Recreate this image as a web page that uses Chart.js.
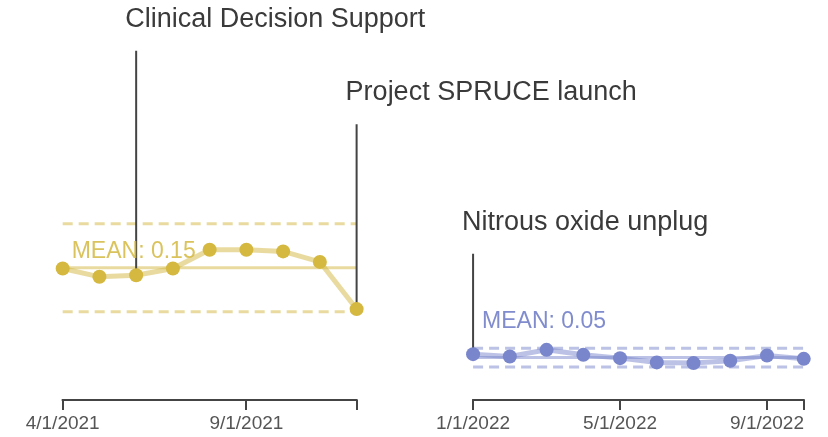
<!DOCTYPE html>
<html>
<head>
<meta charset="utf-8">
<script src="https://cdn.jsdelivr.net/npm/chart.js@4.4.1/dist/chart.umd.min.js"></script>
<style>
  html, body { margin: 0; padding: 0; background: #fff; }
</style>
</head>
<body>
<canvas id="myChart" width="828" height="437"></canvas>
<script>
// first period (before the unplug)
const months2021 = ['2021-04', '2021-05', '2021-06', '2021-07', '2021-08', '2021-09', '2021-10', '2021-11', '2021-12'];
const values2021 = [0.1478, 0.1385, 0.1403, 0.1478, 0.1690, 0.1690, 0.1671, 0.1553, 0.1022];
const limits2021 = { mean: 0.1486, upper: 0.1981, lower: 0.0993 };

// second period
const months2022 = ['2022-01', '2022-02', '2022-03', '2022-04', '2022-05', '2022-06', '2022-07', '2022-08', '2022-09', '2022-10'];
const values2022 = [0.0515, 0.0489, 0.0563, 0.0507, 0.0470, 0.0422, 0.0414, 0.0440, 0.0500, 0.0462];
const limits2022 = { mean: 0.0478, upper: 0.0582, lower: 0.0369 };

const tickMonths = ['2021-04', '2021-09', '2021-12', '2022-01', '2022-05', '2022-09', '2022-10'];
const tickLabels = ['4/1/2021', '9/1/2021', '', '1/1/2022', '5/1/2022', '9/1/2022', ''];

const eventNames = ['Clinical Decision Support', 'Project SPRUCE launch', 'Nitrous oxide unplug'];
const eventMonths = ['2021-06', '2021-12', '2022-01'];
const eventTops = [0.3929, 0.3101, 0.1646];

// where the "MEAN: x" text sits (y value)
const meanLabelY = [0.1597, 0.0806];

const GOLD = 'rgb(212,184,63)';
const GOLD_FAINT = 'rgba(212,184,63,0.5)';
const BLUE = 'rgb(121,134,203)';
const BLUE_FAINT = 'rgba(121,134,203,0.5)';
const FONT = "'Liberation Sans', Arial, sans-serif";

// axis is broken between the two periods, this is the extra blank space in months
const BREAK_GAP = 2.17;

function monthPos(m) {
    const [y, mo] = m.split('-').map(Number);
    let i = (y - 2021) * 12 + mo - 4;
    if (y >= 2022) i += BREAK_GAP;
    return i;
}

function seriesPoints(months, values) {
    return months.map((m, i) => ({ x: monthPos(m), y: values[i] }));
}

function flatLine(months, v) {
    return [{ x: monthPos(months[0]), y: v }, { x: monthPos(months[months.length - 1]), y: v }];
}

function valueAt(m) {
    let i = months2021.indexOf(m);
    if (i >= 0) return values2021[i];
    i = months2022.indexOf(m);
    return values2022[i];
}

function limitSets(months, lim, faint) {
    return [
        { data: flatLine(months, lim.mean), borderColor: faint, borderWidth: 3, pointRadius: 0, order: 3 },
        { data: flatLine(months, lim.upper), borderColor: faint, borderWidth: 3, borderDash: [10, 6], pointRadius: 0, order: 3 },
        { data: flatLine(months, lim.lower), borderColor: faint, borderWidth: 3, borderDash: [10, 6], pointRadius: 0, order: 3 }
    ];
}

const eventSets = eventMonths.map((m, i) => ({
    data: [{ x: monthPos(m), y: eventTops[i] }, { x: monthPos(m), y: valueAt(m) }],
    borderColor: '#444',
    borderWidth: 2,
    pointRadius: 0,
    order: 2
}));

// draws the two pieces of the x axis line + the text bits
const breakAxisPlugin = {
    id: 'breakAxis',
    afterDatasetsDraw(chart) {
        const ctx = chart.ctx;
        const xs = chart.scales.x;
        const ys = chart.scales.y;
        const bottom = chart.chartArea.bottom;
        ctx.save();

        ctx.strokeStyle = '#444';
        ctx.lineWidth = 2;
        [months2021, months2022].forEach(ms => {
            ctx.beginPath();
            ctx.moveTo(xs.getPixelForValue(monthPos(ms[0])) - 1, bottom);
            ctx.lineTo(xs.getPixelForValue(monthPos(ms[ms.length - 1])) + 1, bottom);
            ctx.stroke();
        });

        ctx.textBaseline = 'alphabetic';
        ctx.textAlign = 'left';
        ctx.font = '27px ' + FONT;
        ctx.fillStyle = '#3a3a3a';
        eventNames.forEach((name, i) => {
            const x = xs.getPixelForValue(monthPos(eventMonths[i]));
            const y = ys.getPixelForValue(eventTops[i]);
            ctx.fillText(name, x - 11, y - 24);
        });

        ctx.font = '23px ' + FONT;
        [[months2021, limits2021, 'rgba(212,184,63,0.85)'], [months2022, limits2022, 'rgba(121,134,203,0.95)']]
            .forEach(([ms, lim, col], i) => {
                ctx.fillStyle = col;
                const x = xs.getPixelForValue(monthPos(ms[0]));
                ctx.fillText('MEAN: ' + lim.mean.toFixed(2), x + 9, ys.getPixelForValue(meanLabelY[i]));
            });

        ctx.restore();
    }
};

const ctx = document.getElementById('myChart');
new Chart(ctx, {
    type: 'line',
    data: {
        datasets: [
            {
                data: seriesPoints(months2021, values2021),
                borderColor: GOLD_FAINT, borderWidth: 5,
                pointRadius: 7, pointBackgroundColor: GOLD, pointBorderWidth: 0,
                order: 1
            },
            {
                data: seriesPoints(months2022, values2022),
                borderColor: BLUE_FAINT, borderWidth: 5,
                pointRadius: 7, pointBackgroundColor: BLUE, pointBorderWidth: 0,
                order: 1
            },
            ...limitSets(months2021, limits2021, GOLD_FAINT),
            ...limitSets(months2022, limits2022, BLUE_FAINT),
            ...eventSets
        ]
    },
    options: {
        responsive: false,
        animation: false,
        layout: { padding: 0, autoPadding: false },
        plugins: {
            legend: { display: false },
            tooltip: { enabled: false }
        },
        scales: {
            x: {
                type: 'linear',
                min: -1.706,
                max: 20.83,
                afterBuildTicks(scale) {
                    scale.ticks = tickMonths.map(m => ({ value: monthPos(m) }));
                },
                ticks: {
                    autoSkip: false,
                    maxRotation: 0,
                    padding: 5,
                    color: '#555',
                    font: { family: FONT, size: 19, lineHeight: 0.9 },
                    callback: (value, index) => tickLabels[index]
                },
                grid: {
                    drawOnChartArea: false,
                    drawTicks: true,
                    tickLength: 10,
                    color: '#444',
                    lineWidth: 2
                },
                border: { display: false }
            },
            y: {
                display: false,
                min: 0,
                max: 0.45
            }
        }
    },
    plugins: [breakAxisPlugin]
});
</script>
</body>
</html>
